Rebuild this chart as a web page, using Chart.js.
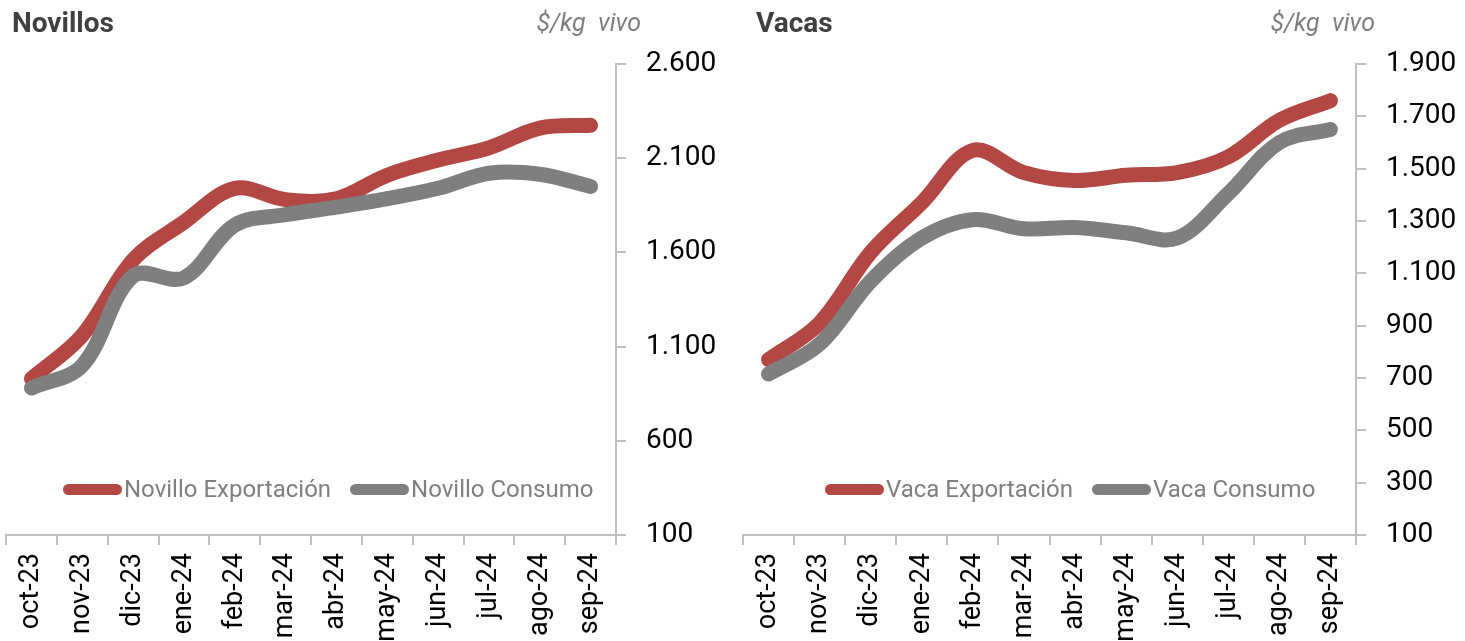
<!DOCTYPE html>
<html>
<head>
<meta charset="utf-8">
<script src="https://cdn.jsdelivr.net/npm/chart.js@4.4.1/dist/chart.umd.min.js"></script>
<style>
  body { margin: 0; background: #fff; font-family: Roboto, sans-serif; }
  .panel { position: absolute; top: 0; height: 641px; }
  .titulo { position: absolute; top: 6px; font-size: 28px; font-weight: bold; color: #404040; }
  .unidad { position: absolute; top: 8px; font-size: 25px; font-style: italic; color: #7f7f7f; white-space: pre; }
  .leyenda { position: absolute; top: 475px; display: flex; align-items: center; font-size: 24px; color: #7f7f7f; white-space: nowrap; }
  .item { display: flex; align-items: center; margin-right: 19px; }
  .linea { width: 59px; height: 11px; border-radius: 6px; margin-right: 2px; }
</style>
</head>
<body>
<div class="panel" id="panel-nov" style="left:0; width:730px">
  <canvas id="novillos"></canvas>
  <div class="titulo" style="left:12px">Novillos</div>
  <div class="unidad" style="right:89px">$/kg  vivo</div>
  <div class="leyenda" id="ley-nov" style="left:63px"></div>
</div>
<div class="panel" id="panel-vac" style="left:730px; width:735px">
  <canvas id="vacas"></canvas>
  <div class="titulo" style="left:26px">Vacas</div>
  <div class="unidad" style="right:90px">$/kg  vivo</div>
  <div class="leyenda" id="ley-vac" style="left:95px"></div>
</div>
<script>
var meses = ["oct-23", "nov-23", "dic-23", "ene-24", "feb-24", "mar-24", "abr-24", "may-24", "jun-24", "jul-24", "ago-24", "sep-24"]

var novilloExportacion = [930, 1160, 1560, 1760, 1940, 1880, 1885, 2010, 2090, 2155, 2260, 2275]
var novilloConsumo = [880, 1000, 1475, 1465, 1745, 1800, 1840, 1885, 1940, 2020, 2015, 1950]

var vacaExportacion = [770, 910, 1180, 1370, 1570, 1485, 1455, 1475, 1485, 1545, 1685, 1760]
var vacaConsumo = [715, 830, 1070, 1235, 1305, 1270, 1275, 1255, 1235, 1405, 1600, 1650]

var rojo = "#b24744"
var gris = "#7f7f7f"
var ejeColor = "#bfbfbf"

function miles(v) {
  return String(v).replace(/\B(?=(\d{3})+(?!\d))/g, ".")
}

function armarConfig(nombres, exportacion, consumo, min, max, paso, anchoEje, izq) {
  return {
    type: "line",
    data: {
      labels: meses,
      datasets: [
        { label: nombres[0], data: exportacion, borderColor: rojo, backgroundColor: rojo, order: 2 },
        { label: nombres[1], data: consumo, borderColor: gris, backgroundColor: gris, order: 1 }
      ]
    },
    options: {
      responsive: true,
      maintainAspectRatio: false,
      animation: false,
      layout: { padding: { top: 64, left: izq, right: 0, bottom: 0 } },
      plugins: {
        legend: { display: false },
        tooltip: { enabled: false }
      },
      elements: {
        point: { radius: 0, hoverRadius: 0 },
        line: { tension: 0.35, borderWidth: 15, borderCapStyle: "round", borderJoinStyle: "round" }
      },
      scales: {
        x: {
          offset: true,
          grid: { offset: true, drawOnChartArea: false, tickLength: 10, color: ejeColor, lineWidth: 2 },
          border: { color: ejeColor, width: 2 },
          ticks: {
            minRotation: 90,
            maxRotation: 90,
            autoSkip: false,
            padding: 8,
            color: "#000",
            font: { family: "Roboto", size: 27 }
          },
          afterFit: function (s) { s.height = 106 }
        },
        y: {
          position: "right",
          min: min,
          max: max,
          grid: { drawOnChartArea: false, tickLength: 10, color: ejeColor, lineWidth: 2 },
          border: { color: ejeColor, width: 2 },
          ticks: {
            stepSize: paso,
            padding: 20,
            color: "#000",
            font: { family: "Roboto", size: 28 },
            callback: function (v) { return miles(v) }
          },
          afterFit: function (s) { s.width = anchoEje }
        }
      }
    }
  }
}

// leyenda html dentro del area del grafico
function armarLeyenda(chart, id) {
  var cont = document.getElementById(id)
  chart.data.datasets.forEach(function (ds) {
    var item = document.createElement("div")
    item.className = "item"
    var linea = document.createElement("span")
    linea.className = "linea"
    linea.style.background = ds.borderColor
    var txt = document.createElement("span")
    txt.textContent = ds.label
    item.appendChild(linea)
    item.appendChild(txt)
    cont.appendChild(item)
  })
}

var novChart = new Chart(document.getElementById("novillos"),
  armarConfig(["Novillo Exportación", "Novillo Consumo"], novilloExportacion, novilloConsumo, 100, 2600, 500, 114, 6))
var vacChart = new Chart(document.getElementById("vacas"),
  armarConfig(["Vaca Exportación", "Vaca Consumo"], vacaExportacion, vacaConsumo, 100, 1900, 200, 109, 13))

armarLeyenda(novChart, "ley-nov")
armarLeyenda(vacChart, "ley-vac")
</script>
</body>
</html>
